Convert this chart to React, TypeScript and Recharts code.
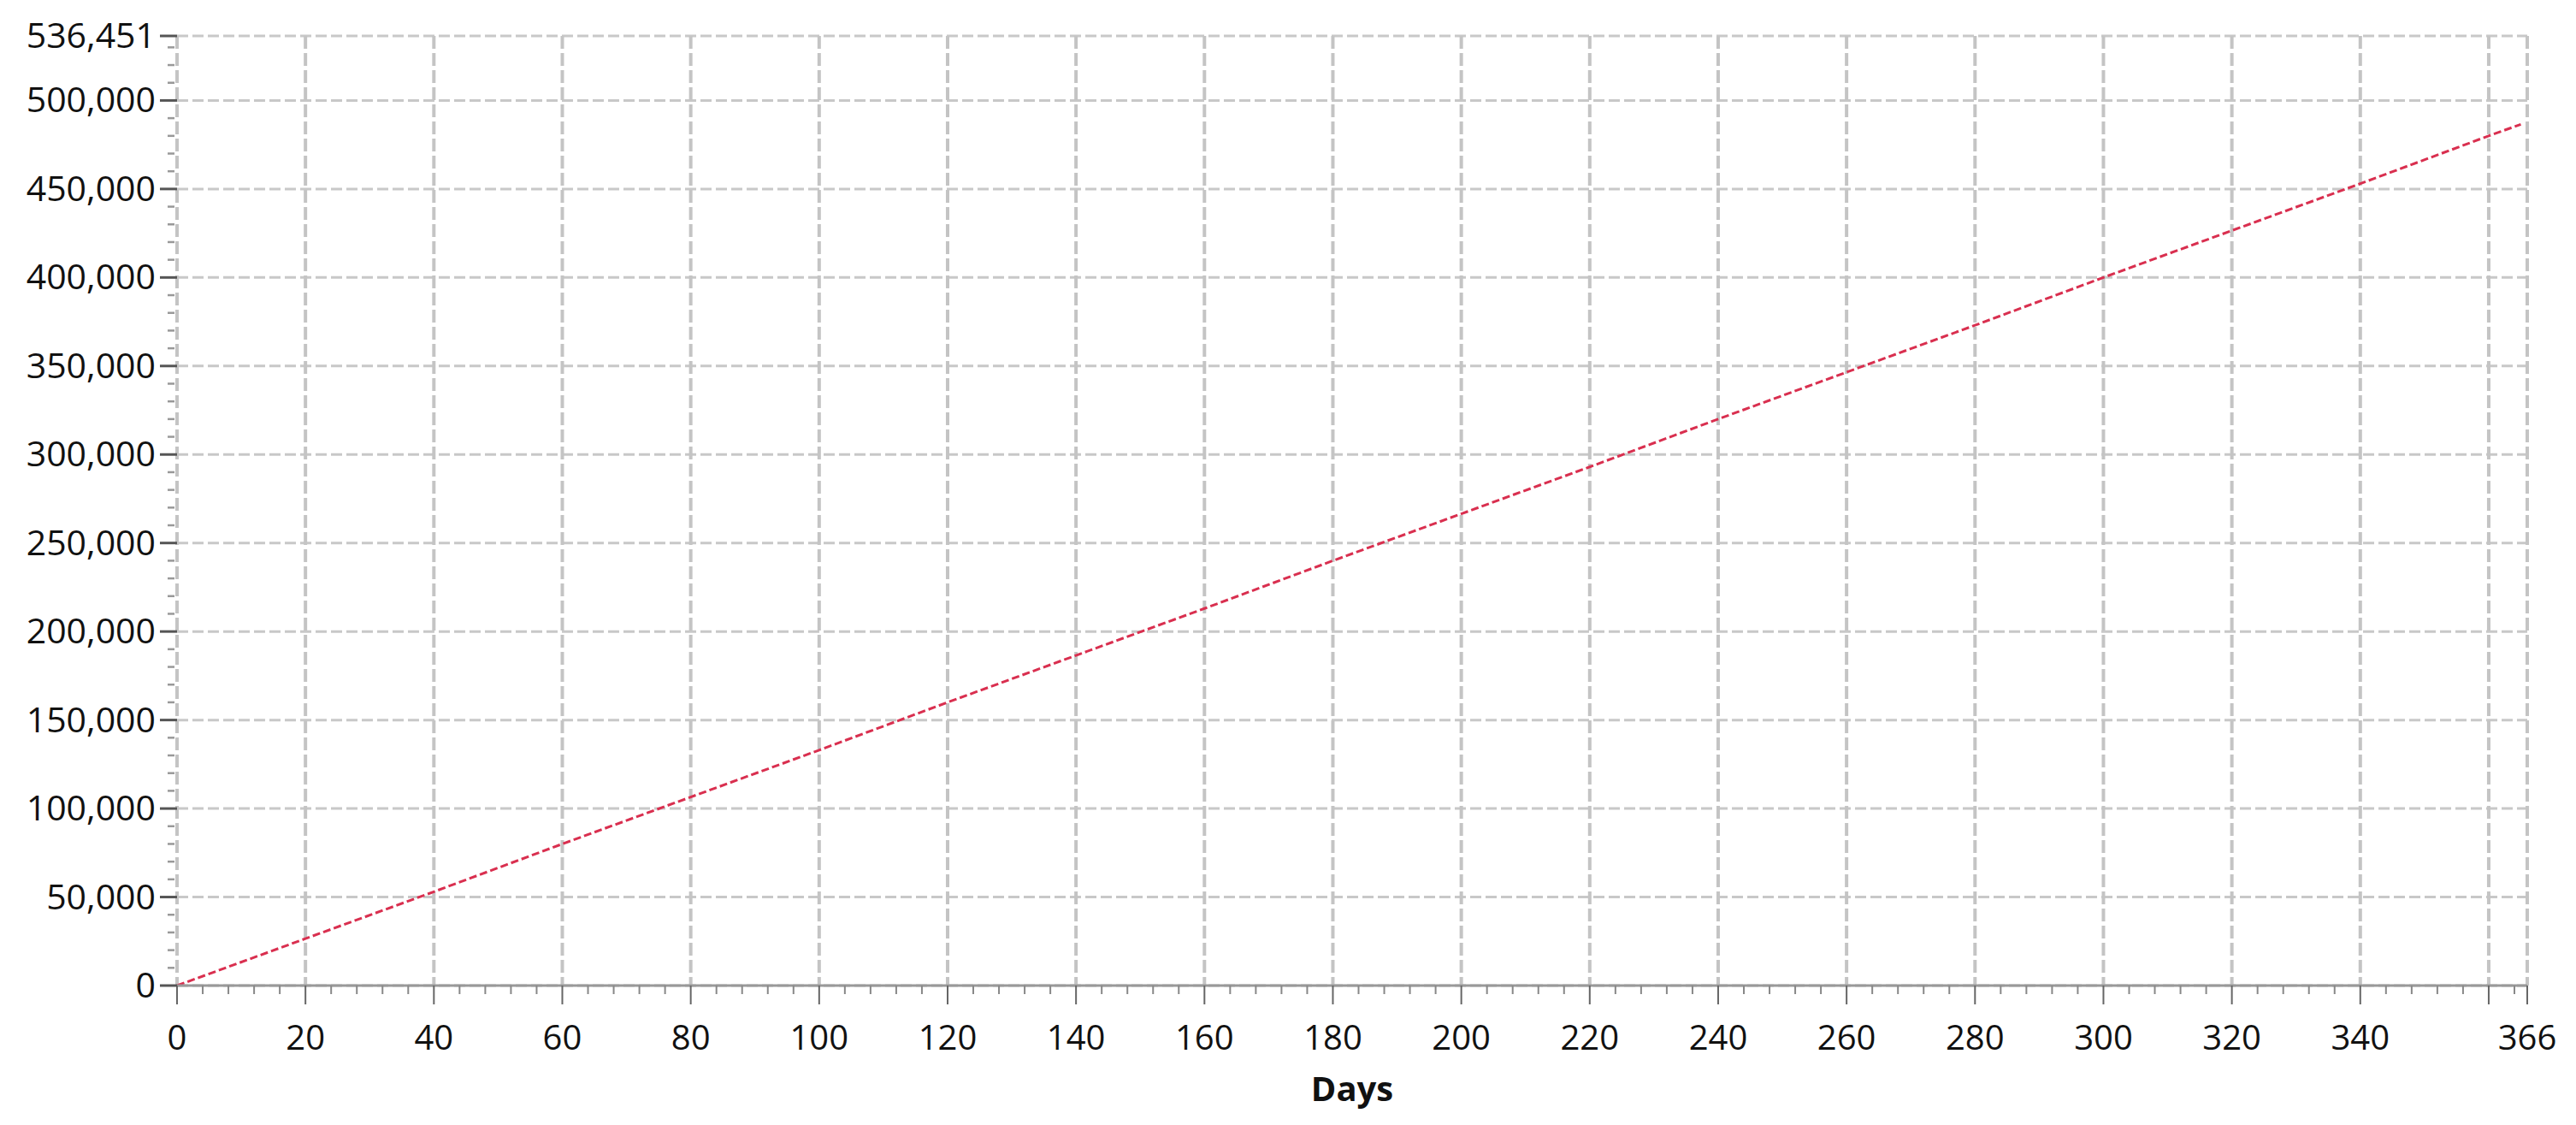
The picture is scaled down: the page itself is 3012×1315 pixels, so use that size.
import { LineChart, Line, XAxis, YAxis, CartesianGrid } from 'recharts';

// values at the x grid lines
const days = [0, 20, 40, 60, 80, 100, 120, 140, 160, 180, 200, 220, 240, 260, 280, 300, 320, 340, 360, 365];
const totals = [
  0, 26500, 53000, 80000, 106500, 133000, 160000, 186500, 213000, 240000,
  266500, 293000, 320000, 346500, 373000, 400000, 426500, 453000, 480000, 486500,
];

const xMajor = [0, 20, 40, 60, 80, 100, 120, 140, 160, 180, 200, 220, 240, 260, 280, 300, 320, 340, 360, 366];
// 360 has its grid line and tick but no label (it would crowd 366)
const xLabels = [0, 20, 40, 60, 80, 100, 120, 140, 160, 180, 200, 220, 240, 260, 280, 300, 320, 340, 366];
const yMajor = [0, 50000, 100000, 150000, 200000, 250000, 300000, 350000, 400000, 450000, 500000, 536451];

const xMinor = Array.from({ length: 92 }, (_, i) => i * 4);
const yMinor = Array.from({ length: 54 }, (_, i) => i * 10000);

const xTicks = Array.from(new Set([...xMinor, ...xMajor])).sort((a, b) => a - b);
const yTicks = Array.from(new Set([...yMinor, ...yMajor])).sort((a, b) => a - b);

const data = days.map((d, i) => ({ day: d, total: totals[i] }));

const FONT = '"Open Sans", "Segoe UI", sans-serif';

const XTick = (props: any) => {
  const { x, y, payload } = props;
  const major = xMajor.includes(payload.value);
  return (
    <g>
      <line x1={x} x2={x} y1={y} y2={y + (major ? 22 : 10)} stroke={major ? '#666' : '#888'} strokeWidth={2} />
      {xLabels.includes(payload.value) && (
        <text x={x} y={y + 75} textAnchor="middle" fontFamily={FONT} fontSize={40} fill="#111">
          {payload.value}
        </text>
      )}
    </g>
  );
};

const YTick = (props: any) => {
  const { x, y, payload } = props;
  const major = yMajor.includes(payload.value);
  return (
    <g>
      {major ? (
        <line x1={x - 20} x2={x} y1={y} y2={y} stroke="#555" strokeWidth={3} />
      ) : (
        <line x1={x - 11} x2={x - 3} y1={y} y2={y} stroke="#999" strokeWidth={2.5} />
      )}
      {major && (
        <text x={x - 25} y={y + 14} textAnchor="end" fontFamily={FONT} fontSize={41} fill="#111">
          {payload.value.toLocaleString('en-US')}
        </text>
      )}
    </g>
  );
};

export default function App() {
  return (
    <div style={{ width: 2996, height: 1300, background: '#fff' }}>
      <LineChart width={2996} height={1300} data={data} margin={{ top: 34, right: 49, left: 0, bottom: 6 }}>
        <CartesianGrid
          vertical={false}
          horizontalValues={yMajor}
          stroke="#c8c8c8"
          strokeWidth={3}
          strokeDasharray="13 5"
        />
        <CartesianGrid
          horizontal={false}
          verticalValues={xMajor}
          stroke="#c4c4c4"
          strokeWidth={4}
          strokeDasharray="15 5"
        />
        <XAxis
          dataKey="day"
          type="number"
          domain={[0, 366]}
          ticks={xTicks}
          interval={0}
          tickSize={0}
          tickMargin={0}
          tickLine={false}
          tick={<XTick />}
          axisLine={{ stroke: '#999', strokeWidth: 3 }}
          height={150}
          label={{
            value: 'Days',
            position: 'insideBottom',
            offset: 15,
            style: { fontFamily: FONT, fontWeight: 700, fontSize: 40, fill: '#111' },
          }}
        />
        <YAxis
          type="number"
          domain={[0, 536451]}
          ticks={yTicks}
          interval={0}
          tickSize={0}
          tickMargin={0}
          tickLine={false}
          axisLine={false}
          tick={<YTick />}
          width={199}
          allowDataOverflow
        />
        <Line
          type="linear"
          dataKey="total"
          stroke="#d92f4f"
          strokeWidth={3}
          strokeDasharray="9 4"
          dot={false}
          isAnimationActive={false}
        />
      </LineChart>
    </div>
  );
}
